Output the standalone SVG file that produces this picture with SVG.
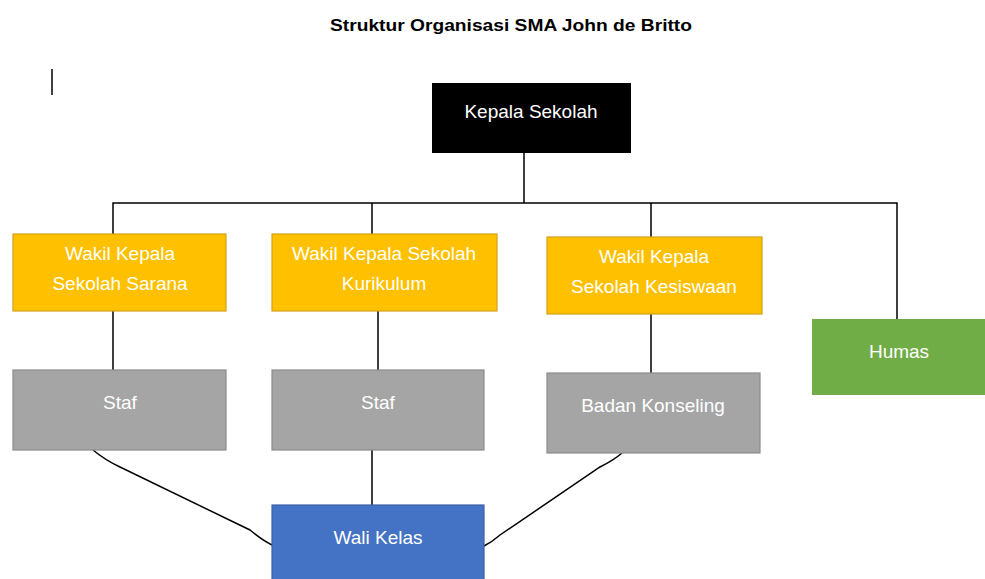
<svg xmlns="http://www.w3.org/2000/svg" width="985" height="579" viewBox="0 0 985 579">
<style>
text{font-family:"Liberation Sans",Arial,sans-serif;fill:#fff;font-size:19px;text-anchor:middle}
.title{fill:#000;font-weight:bold;font-size:17px}
.ln{stroke:#000;stroke-width:1.5;fill:none}
.y{fill:#FFC000;stroke:#D4A017;stroke-width:1.2}
.g{fill:#A5A5A5;stroke:#8C8C8C;stroke-width:1.2}
</style>
<rect width="985" height="579" fill="#fff"/>
<text class="title" x="511" y="31" textLength="362" lengthAdjust="spacingAndGlyphs">Struktur Organisasi SMA John de Britto</text>
<line x1="52" y1="69" x2="52" y2="95" stroke="#000" stroke-width="1.5"/>
<g id="connectors">
<path class="ln" d="M524 153V203M113 234V203H897V319M372 203V234M651 203V237"/>
<path class="ln" d="M113 311V370M378 311V370M651 314V373M372 450V505"/>
<path class="ln" d="M93 450Q105 460 120 467L250 530Q262 540 272 545"/>
<path class="ln" d="M622 453Q614 460 600 467L500 535Q492 542 484 546"/>
</g>
<g id="kepala"><rect x="432" y="83" width="199" height="70" fill="#000"/><text x="531" y="118">Kepala Sekolah</text></g>
<g id="wakil-sarana"><rect class="y" x="13" y="234" width="213" height="77"/><text x="120" y="260">Wakil Kepala</text><text x="120" y="290">Sekolah Sarana</text></g>
<g id="wakil-kurikulum"><rect class="y" x="272" y="234" width="225" height="77"/><text x="384" y="260">Wakil Kepala Sekolah</text><text x="384" y="290">Kurikulum</text></g>
<g id="wakil-kesiswaan"><rect class="y" x="547" y="237" width="215" height="77"/><text x="654" y="263">Wakil Kepala</text><text x="654" y="293">Sekolah Kesiswaan</text></g>
<g id="humas"><rect x="812" y="319" width="173" height="76" fill="#70AD47"/><text x="899" y="358">Humas</text></g>
<g id="staf1"><rect class="g" x="13" y="370" width="213" height="80"/><text x="120" y="409">Staf</text></g>
<g id="staf2"><rect class="g" x="272" y="370" width="212" height="80"/><text x="378" y="409">Staf</text></g>
<g id="badan-konseling"><rect class="g" x="547" y="373" width="213" height="80"/><text x="653" y="412">Badan Konseling</text></g>
<g id="wali-kelas"><rect x="272" y="505" width="212" height="80" fill="#4472C4" stroke="#3A62A8" stroke-width="1.2"/><text x="378" y="544">Wali Kelas</text></g>
</svg>
